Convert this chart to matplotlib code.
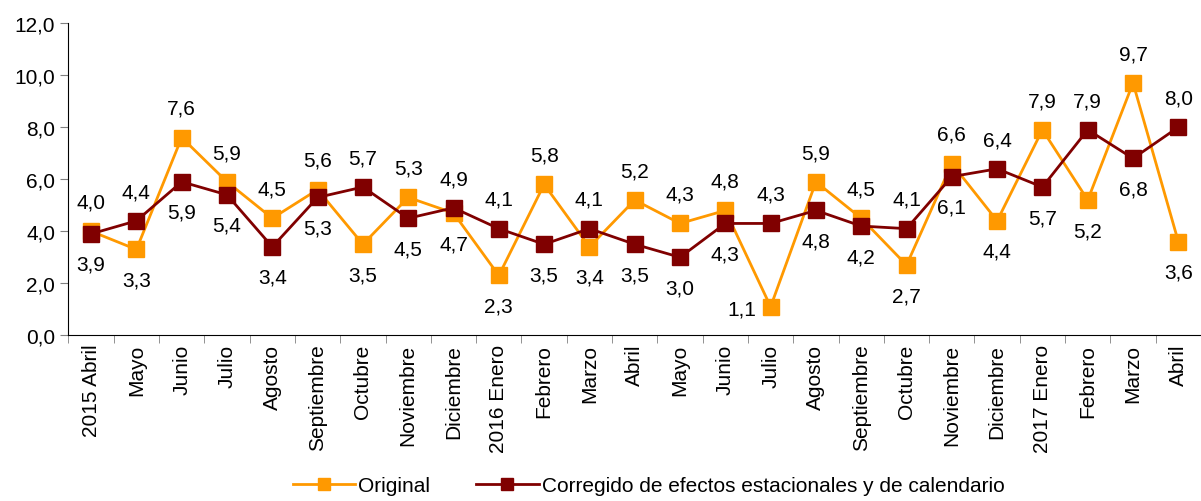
import numpy as np
import matplotlib.pyplot as plt

plt.rcParams['font.family'] = ['Liberation Sans', 'DejaVu Sans']

meses = ["2015 Abril", "Mayo", "Junio", "Julio", "Agosto", "Septiembre", "Octubre",
         "Noviembre", "Diciembre", "2016 Enero", "Febrero", "Marzo", "Abril", "Mayo",
         "Junio", "Julio", "Agosto", "Septiembre", "Octubre", "Noviembre", "Diciembre",
         "2017 Enero", "Febrero", "Marzo", "Abril"]
original = [4.0, 3.3, 7.6, 5.9, 4.5, 5.6, 3.5, 5.3, 4.7, 2.3, 5.8, 3.4, 5.2,
            4.3, 4.8, 1.1, 5.9, 4.5, 2.7, 6.6, 4.4, 7.9, 5.2, 9.7, 3.6]
corregido = [3.9, 4.4, 5.9, 5.4, 3.4, 5.3, 5.7, 4.5, 4.9, 4.1, 3.5, 4.1, 3.5,
             3.0, 4.3, 4.3, 4.8, 4.2, 4.1, 6.1, 6.4, 5.7, 7.9, 6.8, 8.0]

c_orig = "#FF9900"
c_corr = "#800000"
fs = 15

fig, ax = plt.subplots(figsize=(12.01, 5.02), dpi=100)
fig.subplots_adjust(left=0.057, right=1.0, top=0.952, bottom=0.33)

x = np.arange(len(meses))
ax.plot(x, original, color=c_orig, lw=2, marker="s", ms=11, label="Original")
ax.plot(x, corregido, color=c_corr, lw=2, marker="s", ms=11,
        label="Corregido de efectos estacionales y de calendario")

# etiquetas: la serie mas alta arriba, la mas baja abajo (a la izquierda si no cabe)
for i in x:
    for serie, otra in ((original, corregido), (corregido, original)):
        v = serie[i]
        if v >= otra[i]:
            off, ha = (0, 21), "center"
        elif v < 2:
            off, ha = (-10, -2), "right"
        else:
            off, ha = (0, -22), "center"
        ax.annotate(f"{v:.1f}".replace(".", ","), (i, v),
                    xytext=off, textcoords="offset points",
                    ha=ha, va="center", fontsize=fs)

ax.set_xlim(-0.5, len(meses) - 0.5)
ax.set_ylim(0, 12)
ax.set_yticks(np.arange(0, 12.1, 2))
ax.set_yticklabels([f"{v:.1f}".replace(".", ",") for v in np.arange(0, 12.1, 2)])
ax.set_xticks(x)
ax.set_xticklabels(meses, rotation=90)
ax.set_xticks(np.arange(-0.5, len(meses), 1), minor=True)
ax.tick_params(axis="x", which="major", length=0, labelsize=fs, pad=6)
ax.tick_params(axis="x", which="minor", length=6, color="gray")
ax.tick_params(axis="y", length=6, color="gray", labelsize=fs)
ax.spines["top"].set_visible(False)
ax.spines["right"].set_visible(False)

fig.legend(loc="lower center", ncol=2, frameon=False, fontsize=fs,
           bbox_to_anchor=(0.54, -0.025), handlelength=3.0, columnspacing=2.2,
           handletextpad=0.15, markerscale=0.85)

fig.savefig("out.png")
